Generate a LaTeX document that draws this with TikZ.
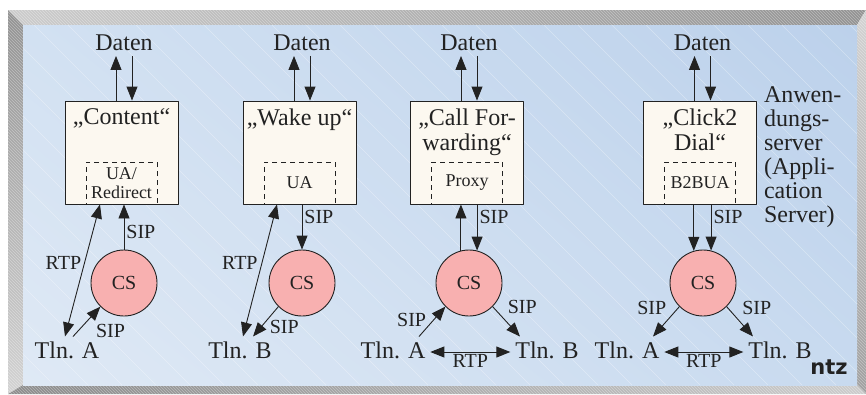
\documentclass[tikz,border=0pt]{standalone}
\usepackage{fontspec}
\setmainfont{Liberation Serif}
\newfontfamily\logofont{DejaVu Sans}
\usetikzlibrary{arrows.meta,positioning,patterns,shadings}
\definecolor{ink}{HTML}{222222}
\definecolor{boxfill}{HTML}{FCF8F0}
\definecolor{csfill}{HTML}{F8B0B0}
\definecolor{bgUL}{RGB}{210,225,242}
\definecolor{bgUR}{RGB}{188,209,235}
\definecolor{bgLL}{RGB}{223,233,245}
\definecolor{bgLR}{RGB}{200,218,239}
\begin{document}
\begin{tikzpicture}[x=1pt, y=-1pt, line join=round, line width=.9pt, draw=ink,
  >={Triangle[length=14pt,width=11pt]},
  big/.style={font=\fontsize{24}{25}\selectfont, text=ink, inner sep=2pt, outer sep=3pt},
  lbl/.style={font=\fontsize{20}{20}\selectfont, text=ink, inner sep=2pt},
  appbox/.style={draw, fill=boxfill, minimum width=113pt, minimum height=103pt, inner sep=0pt},
  uabox/.style={draw, dash pattern=on 5pt off 4pt, minimum width=71pt, minimum height=42pt,
    align=center, font=\fontsize{18}{19}\selectfont, text=ink, inner sep=0pt},
  cs/.style={circle, draw, fill=csfill, minimum size=66pt, inner sep=0pt,
    font=\fontsize{20}{20}\selectfont, text=ink}]
\useasboundingbox (0,0) rectangle (866,394);
% frame
\shade[left color=gray!40, right color=gray!85] (8,10) -- (866,10) -- (857,25) -- (23,25) -- cycle;
\shade[top color=gray!85, bottom color=gray!35] (8,10) -- (23,25) -- (23,385) -- (8,394) -- cycle;
\shade[left color=gray!90, right color=gray!40] (8,394) -- (23,385) -- (857,385) -- (866,394) -- cycle;
\shade[top color=gray!35, bottom color=gray!75] (866,10) -- (866,394) -- (857,385) -- (857,25) -- cycle;
\fill[pattern=north west lines, pattern color=white, opacity=.35]
  (8,10) -- (866,10) -- (866,394) -- (8,394) -- cycle (23,25) -- (23,385) -- (857,385) -- (857,25) -- cycle;
\shade[upper left=bgUL, upper right=bgUR, lower left=bgLL, lower right=bgLR]
  (23,25) rectangle (857,385);
\begin{scope}
\clip (23,25) rectangle (857,385);
\foreach \i in {-340,-306,...,857}
  \draw[white, opacity=.35, line width=.5pt] (\i,25) -- ++(360,360);
\end{scope}

% Content
\node[big] (daten1) at (124,43) {Daten};
\node[appbox] (app1) at (121.5,152.5) {};
\node[big, below=3pt of app1.north] (title1) {„Content“};
\node[uabox, above=0pt of app1.south] (ua1) {UA/\\Redirect};
\node[cs] (cs1) at (124,283) {CS};
\node[big] (tlnA1) at (67,350) {Tln. A};
\draw[->] ([xshift=-8pt]daten1.south |- app1.north) -- ([xshift=-8pt]daten1.south);
\draw[->] ([xshift=8pt]daten1.south) -- ([xshift=8pt]daten1.south |- app1.north);
\draw[->] (cs1.north) -- (cs1.north |- app1.south) node[lbl, anchor=west, pos=.39] {SIP};
\draw[<->] ([xshift=-2pt]tlnA1.north) -- ([xshift=-21.5pt]app1.south) node[lbl, anchor=east, pos=.56, xshift=-1pt] {RTP};
\draw[->] ([xshift=6pt]tlnA1.north) -- (cs1.225) node[lbl, anchor=north west, pos=.5, xshift=7pt] {SIP};

% Wake up
\node[big] (daten2) at (302,43) {Daten};
\node[appbox] (app2) at (299.5,152.5) {};
\node[big, below=3pt of app2.north] (title2) {„Wake up“};
\node[uabox, above=0pt of app2.south] (ua2) {UA};
\node[cs] (cs2) at (302,283) {CS};
\node[big] (tlnB2) at (240,350) {Tln. B};
\draw[->] ([xshift=-8pt]daten2.south |- app2.north) -- ([xshift=-8pt]daten2.south);
\draw[->] ([xshift=8pt]daten2.south) -- ([xshift=8pt]daten2.south |- app2.north);
\draw[->] (cs2.north |- app2.south) -- (cs2.north) node[lbl, anchor=west, pos=.28] {SIP};
\draw[<->] ([xshift=3pt]tlnB2.north) -- ([xshift=-22.5pt]app2.south) node[lbl, anchor=east, pos=.56, xshift=-2pt] {RTP};
\draw[->] (cs2.225) -- ([xshift=13pt]tlnB2.north) node[lbl, anchor=west, pos=.67, xshift=6pt] {SIP};

% Call Forwarding
\node[big] (daten3) at (469,43) {Daten};
\node[appbox] (app3) at (467,152.5) {};
\node[big, below=3pt of app3.north, align=center] (title3) {„Call For-\\warding“};
\node[uabox, above=0pt of app3.south] (ua3) {Proxy};
\node[cs] (cs3) at (469,283) {CS};
\node[big] (tlnA3) at (393,350) {Tln. A};
\node[big] (tlnB3) at (547,350) {Tln. B};
\draw[->] ([xshift=-8pt]daten3.south |- app3.north) -- ([xshift=-8pt]daten3.south);
\draw[->] ([xshift=8pt]daten3.south) -- ([xshift=8pt]daten3.south |- app3.north);
\draw[->] (cs3.104) -- (cs3.104 |- app3.south);
\draw[->] (cs3.76 |- app3.south) -- (cs3.76) node[lbl, anchor=west, pos=.28] {SIP};
\draw[->] ([xshift=26pt]tlnA3.north) -- (cs3.225) node[lbl, anchor=east, pos=.55, xshift=-5pt] {SIP};
\draw[->] (cs3.315) -- ([xshift=-27pt]tlnB3.north) node[lbl, anchor=south west, pos=.5, yshift=5pt, xshift=-1pt] {SIP};
\draw[<->] ([yshift=-2pt]tlnA3.east) -- ([yshift=-2pt]tlnB3.west) node[lbl, below, midway] {RTP};

% Click2 Dial
\node[big] (daten4) at (702.5,43) {Daten};
\node[appbox] (app4) at (700,152.5) {};
\node[big, below=3pt of app4.north, align=center] (title4) {„Click2\\Dial“};
\node[uabox, above=0pt of app4.south] (ua4) {B2BUA};
\node[cs] (cs4) at (703,283) {CS};
\node[big] (tlnA4) at (627,350) {Tln. A};
\node[big] (tlnB4) at (780,350) {Tln. B};
\draw[->] ([xshift=-8pt]daten4.south |- app4.north) -- ([xshift=-8pt]daten4.south);
\draw[->] ([xshift=8pt]daten4.south) -- ([xshift=8pt]daten4.south |- app4.north);
\draw[->] (cs4.106 |- app4.south) -- (cs4.106);
\draw[->] (cs4.76 |- app4.south) -- (cs4.76) node[lbl, anchor=west, pos=.28] {SIP};
\draw[->] (cs4.225) -- ([xshift=26pt]tlnA4.north) node[lbl, anchor=south east, pos=.5, yshift=4.5pt, xshift=2.5pt] {SIP};
\draw[->] (cs4.315) -- ([xshift=-27pt]tlnB4.north) node[lbl, anchor=south west, pos=.5, yshift=4.5pt] {SIP};
\draw[<->] ([yshift=-2pt]tlnA4.east) -- ([yshift=-2pt]tlnB4.west) node[lbl, below, midway] {RTP};

\node[big, anchor=north west, align=left, inner sep=0pt, outer sep=0pt, font=\fontsize{24}{24}\selectfont]
  (server) at (764,87) {Anwen-\\dungs-\\server\\(Appli-\\cation\\Server)};
\node[text=ink, font=\logofont\bfseries\fontsize{21}{21}\selectfont, inner sep=0pt] (logo) at (829,367) {ntz};
\end{tikzpicture}
\end{document}
